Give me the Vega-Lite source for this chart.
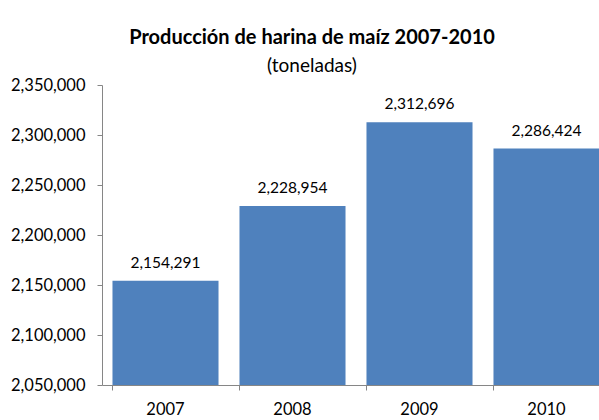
{
  "$schema": "https://vega.github.io/schema/vega-lite/v6.json",
  "autosize": "none",
  "padding": {"left": 102, "top": 85, "right": 0, "bottom": 40},
  "width": 508,
  "height": 300,
  "background": "white",
  "config": {
    "view": {"stroke": null},
    "font": "Lato"
  },
  "title": {
    "text": "Producción de harina de maíz 2007-2010",
    "subtitle": "(toneladas)",
    "anchor": "middle",
    "frame": "group",
    "dx": -44,
    "offset": 1,
    "font": "Lato",
    "fontSize": 20,
    "fontWeight": "bold",
    "color": "#000000",
    "subtitleFont": "Lato",
    "subtitleFontSize": 19,
    "subtitleColor": "#000000",
    "subtitlePadding": 9
  },
  "data": {
    "values": [
      {"year": "2007", "value": 2154291},
      {"year": "2008", "value": 2228954},
      {"year": "2009", "value": 2312696},
      {"year": "2010", "value": 2286424}
    ]
  },
  "encoding": {
    "x": {
      "field": "year",
      "type": "nominal",
      "sort": null,
      "scale": {"paddingInner": 0.165, "paddingOuter": 0.0825}
    },
    "y": {
      "field": "value",
      "type": "quantitative",
      "scale": {"domain": [2050000, 2350000], "zero": false, "nice": false},
      "axis": {
        "title": null,
        "values": [2050000, 2100000, 2150000, 2200000, 2250000, 2300000, 2350000],
        "format": ",d",
        "grid": false,
        "domainColor": "#868686",
        "tickColor": "#868686",
        "tickSize": 5,
        "labelPadding": 12,
        "labelFontSize": 16.5,
        "labelColor": "#000000",
        "labelFont": "Lato"
      }
    }
  },
  "layer": [
    {
      "mark": {"type": "bar", "color": "#4F81BD", "clip": true},
      "encoding": {
        "x": {
          "field": "year", "type": "nominal", "sort": null,
          "axis": {
            "title": null,
            "labels": false,
            "bandPosition": 0,
            "domainColor": "#868686",
            "tickColor": "#868686",
            "tickSize": 5,
            "grid": false
          }
        }
      }
    },
    {
      "mark": {"type": "text", "dy": -18, "fontSize": 15.5, "font": "Lato", "color": "#000000"},
      "encoding": {
        "x": {
          "field": "year", "type": "nominal", "sort": null,
          "axis": {
            "title": null,
            "labelAngle": 0,
            "ticks": false,
            "domain": false,
            "orient": "bottom",
            "labelPadding": 16,
            "labelFontSize": 16.5,
            "labelColor": "#000000",
            "labelFont": "Lato",
            "grid": false
          }
        },
        "text": {"field": "value", "type": "quantitative", "format": ",d"}
      }
    }
  ],
  "resolve": {"axis": {"x": "independent"}}
}
